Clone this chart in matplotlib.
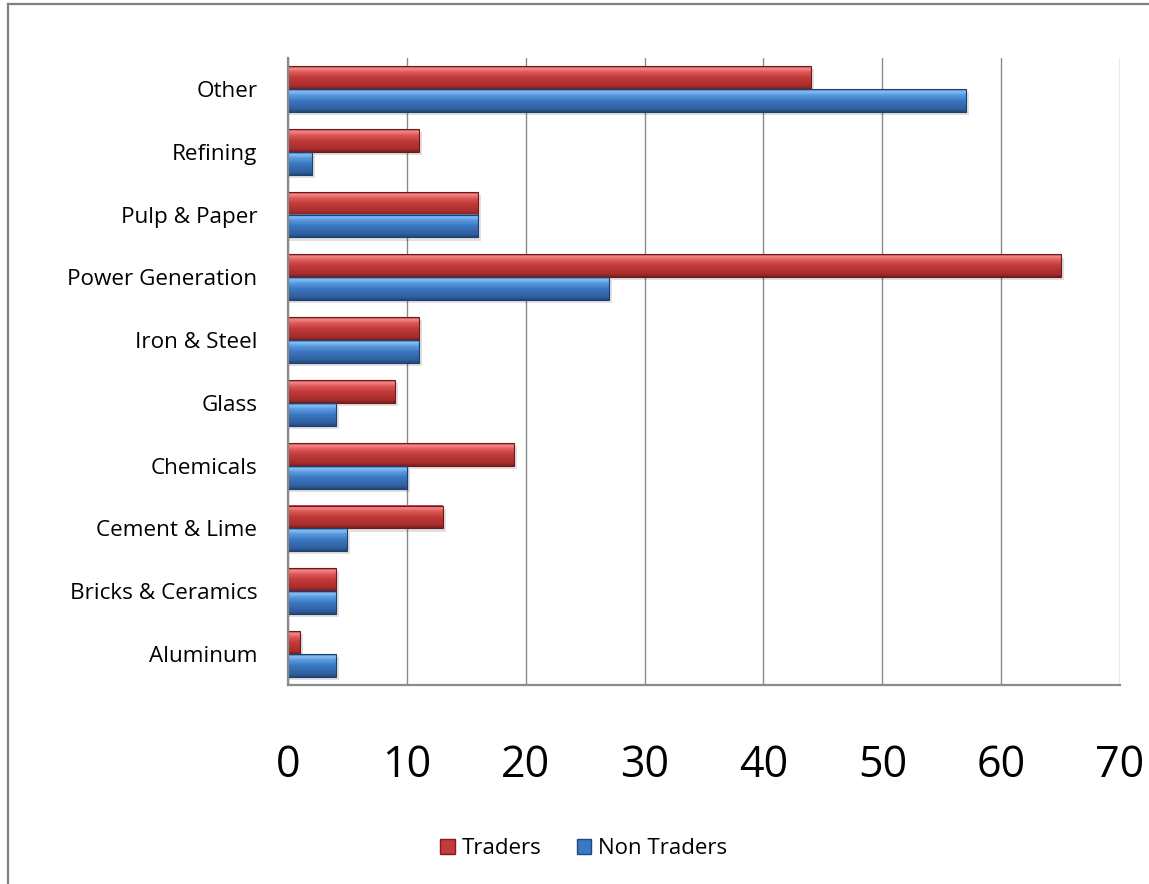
import matplotlib.pyplot as plt
import numpy as np
from matplotlib.colors import LinearSegmentedColormap
from matplotlib.patches import Patch, Rectangle
from matplotlib.lines import Line2D

sectors = ['Aluminum', 'Bricks & Ceramics', 'Cement & Lime', 'Chemicals', 'Glass',
           'Iron & Steel', 'Power Generation', 'Pulp & Paper', 'Refining', 'Other']
traders = [1, 4, 13, 19, 9, 11, 65, 16, 11, 44]
non_traders = [4, 4, 5, 10, 4, 11, 27, 16, 2, 57]
x_ticks = [0, 10, 20, 30, 40, 50, 60, 70]

# bevelled bar shading, bottom of bar -> top of bar
red_shade = LinearSegmentedColormap.from_list(
    'red_shade', [(0, '#7a1e1e'), (0.12, '#a52c2c'), (0.5, '#c23a3a'),
                  (0.75, '#e05a5a'), (0.9, '#f48a8a'), (1, '#b53a3a')])
blue_shade = LinearSegmentedColormap.from_list(
    'blue_shade', [(0, '#23477a'), (0.12, '#2f5f9e'), (0.5, '#3b78c2'),
                   (0.75, '#5c9be0'), (0.9, '#86c0f5'), (1, '#3a72b5')])

plt.rcParams['font.family'] = ['Open Sans', 'DejaVu Sans']

fig = plt.figure(figsize=(11.49, 8.84), dpi=100)
ax = fig.add_axes([0.2507, 0.2247, 0.7241, 0.7101])

y = np.arange(len(sectors))
h = 0.365
grad = np.linspace(0, 1, 64).reshape(-1, 1)


def draw_bars(values, offset, cmap, edge):
    for yi, v in zip(y, values):
        y0 = yi + offset - h / 2
        # soft drop shadow
        ax.add_patch(Rectangle((0, y0 - 0.05), v + 0.25, h, facecolor='#000000',
                               alpha=0.12, linewidth=0, zorder=2))
        ax.imshow(grad, extent=(0, v, y0, y0 + h), origin='lower', aspect='auto',
                  cmap=cmap, zorder=3, interpolation='bilinear')
        ax.add_patch(Rectangle((0, y0), v, h, facecolor='none', edgecolor=edge,
                               linewidth=0.8, zorder=4))


draw_bars(traders, h / 2, red_shade, '#6e1a1a')
draw_bars(non_traders, -h / 2, blue_shade, '#1f3f6e')

ax.set_xlim(0, 70)
ax.set_ylim(-0.5, len(sectors) - 0.5)
ax.set_yticks(y)
ax.set_yticklabels(sectors, fontsize=16.2)
ax.set_xticks(x_ticks)
ax.set_xticklabels([str(t) for t in x_ticks], fontsize=31)
ax.tick_params(axis='y', length=0, pad=22)
ax.tick_params(axis='x', length=0, pad=42)

ax.grid(axis='x', color='#8a8a8a', linewidth=1.0, zorder=0)
ax.set_axisbelow(True)
for side in ['top', 'right']:
    ax.spines[side].set_visible(False)
for side in ['left', 'bottom']:
    ax.spines[side].set_color('#8a8a8a')
    ax.spines[side].set_linewidth(1.6)
    ax.spines[side].set_zorder(5)

handles = [Patch(facecolor='#c23a3a', edgecolor='#7a1e1e', label='Traders'),
           Patch(facecolor='#3b78c2', edgecolor='#23477a', label='Non Traders')]
fig.legend(handles=handles, loc='center', bbox_to_anchor=(0.508, 0.040), ncol=2,
           frameon=False, fontsize=16, handlelength=0.65, handleheight=0.65,
           handletextpad=0.3, columnspacing=1.6)

# chart frame, top and left edges
fig.add_artist(Line2D([0.007, 0.007], [0, 0.995], color='#808080', linewidth=1.6,
                      transform=fig.transFigure))
fig.add_artist(Line2D([0.007, 1], [0.995, 0.995], color='#808080', linewidth=1.6,
                      transform=fig.transFigure))

fig.savefig('out.png', dpi=100, facecolor='white')
